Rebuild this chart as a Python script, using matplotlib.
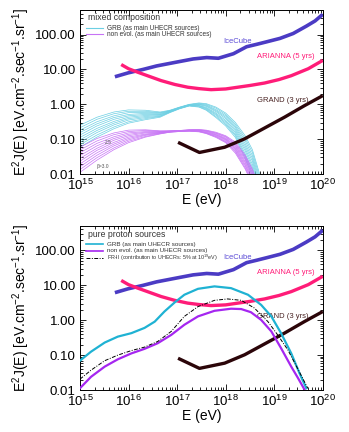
import numpy as np
import matplotlib
matplotlib.use("Agg")
import matplotlib.pyplot as plt
from matplotlib.ticker import LogLocator, FuncFormatter, NullFormatter

plt.rcParams['font.family'] = ['Liberation Sans', 'DejaVu Sans']
plt.rcParams['mathtext.fontset'] = 'custom'
plt.rcParams['mathtext.rm'] = 'Liberation Sans'
plt.rcParams['mathtext.it'] = 'Liberation Sans:italic'

# ---------------- data (log10 values) ----------------
# detector sensitivities
icecube_logE = [15.72, 15.99, 16.30, 16.58, 16.99, 17.33, 17.61, 17.85, 18.16, 18.43, 18.64, 18.84, 19.12, 19.39, 19.66, 19.84, 20.0]
icecube_logF = [0.79, 0.90, 1.00, 1.10, 1.21, 1.30, 1.34, 1.32, 1.45, 1.65, 1.72, 1.79, 1.89, 2.03, 2.24, 2.39, 2.58]
arianna_logE = [15.85, 16.0, 16.19, 16.45, 16.67, 16.95, 17.22, 17.45, 17.70, 18.0, 18.25, 18.5, 18.8, 19.1, 19.35, 19.7, 20.0]
arianna_logF = [1.14, 1.02, 0.92, 0.79, 0.68, 0.57, 0.49, 0.45, 0.42, 0.44, 0.49, 0.54, 0.61, 0.71, 0.82, 1.02, 1.26]
grand_logE = [17.02, 17.46, 17.98, 18.39, 18.80, 19.21, 19.62, 20.0]
grand_logF = [-1.09, -1.38, -1.23, -0.99, -0.68, -0.37, -0.04, 0.25]

# mixed composition families (10 spectral indices each)
mixed_logE = [15.0, 15.35, 15.7, 16.0, 16.35, 16.65, 16.85, 17.05, 17.25, 17.45, 17.6, 17.8, 18.0, 18.2, 18.4, 18.55, 18.7]
grb_mixed_logF = [
    [-0.60, -0.37, -0.22, -0.16, -0.17, -0.22, -0.17, -0.08, 0.00, 0.04, 0.02, -0.08, -0.25, -0.52, -0.90, -1.30, -2.00],
    [-0.67, -0.43, -0.27, -0.20, -0.20, -0.24, -0.18, -0.09, -0.01, 0.03, 0.00, -0.11, -0.29, -0.57, -0.97, -1.38, -2.09],
    [-0.74, -0.50, -0.33, -0.24, -0.23, -0.25, -0.19, -0.09, -0.01, 0.01, -0.02, -0.15, -0.33, -0.62, -1.04, -1.47, -2.18],
    [-0.81, -0.56, -0.38, -0.29, -0.26, -0.27, -0.19, -0.10, -0.02, 0.00, -0.04, -0.18, -0.37, -0.66, -1.12, -1.55, -2.27],
    [-0.88, -0.62, -0.43, -0.33, -0.29, -0.29, -0.20, -0.10, -0.02, -0.01, -0.06, -0.21, -0.41, -0.71, -1.19, -1.63, -2.36],
    [-0.95, -0.69, -0.49, -0.37, -0.32, -0.30, -0.21, -0.11, -0.03, -0.03, -0.09, -0.25, -0.46, -0.76, -1.26, -1.72, -2.44],
    [-1.02, -0.75, -0.54, -0.41, -0.35, -0.32, -0.22, -0.11, -0.03, -0.04, -0.11, -0.28, -0.50, -0.81, -1.33, -1.80, -2.53],
    [-1.09, -0.81, -0.59, -0.45, -0.38, -0.34, -0.22, -0.12, -0.04, -0.05, -0.13, -0.31, -0.54, -0.86, -1.41, -1.88, -2.62],
    [-1.16, -0.88, -0.65, -0.50, -0.41, -0.35, -0.23, -0.12, -0.04, -0.07, -0.15, -0.35, -0.58, -0.90, -1.48, -1.97, -2.71],
    [-1.23, -0.94, -0.70, -0.54, -0.44, -0.37, -0.24, -0.13, -0.05, -0.08, -0.17, -0.38, -0.62, -0.95, -1.55, -2.05, -2.80],
]
nonevol_mixed_logF = [
    [-1.23, -0.98, -0.82, -0.74, -0.73, -0.76, -0.76, -0.75, -0.73, -0.72, -0.74, -0.80, -0.90, -1.08, -1.45, -1.85, -2.40],
    [-1.31, -1.05, -0.87, -0.78, -0.75, -0.77, -0.76, -0.75, -0.73, -0.73, -0.75, -0.82, -0.92, -1.12, -1.49, -1.90, -2.47],
    [-1.39, -1.12, -0.93, -0.82, -0.78, -0.78, -0.77, -0.76, -0.74, -0.74, -0.76, -0.83, -0.94, -1.15, -1.54, -1.95, -2.53],
    [-1.47, -1.19, -0.98, -0.86, -0.80, -0.79, -0.77, -0.76, -0.74, -0.74, -0.77, -0.85, -0.97, -1.19, -1.58, -2.00, -2.60],
    [-1.55, -1.26, -1.03, -0.90, -0.82, -0.80, -0.78, -0.76, -0.75, -0.75, -0.78, -0.87, -0.99, -1.22, -1.63, -2.05, -2.67],
    [-1.63, -1.32, -1.09, -0.94, -0.85, -0.81, -0.78, -0.77, -0.75, -0.76, -0.80, -0.88, -1.01, -1.26, -1.67, -2.10, -2.73],
    [-1.71, -1.39, -1.14, -0.98, -0.87, -0.82, -0.79, -0.77, -0.76, -0.77, -0.81, -0.90, -1.03, -1.29, -1.72, -2.15, -2.80],
    [-1.79, -1.46, -1.19, -1.02, -0.89, -0.83, -0.79, -0.77, -0.76, -0.77, -0.82, -0.92, -1.06, -1.33, -1.76, -2.20, -2.87],
    [-1.87, -1.53, -1.25, -1.06, -0.92, -0.84, -0.80, -0.78, -0.77, -0.78, -0.83, -0.93, -1.08, -1.36, -1.81, -2.25, -2.93],
    [-1.95, -1.60, -1.30, -1.10, -0.94, -0.85, -0.80, -0.78, -0.77, -0.79, -0.84, -0.95, -1.10, -1.40, -1.85, -2.30, -3.00],
]

# pure proton sources
grb_p_logE = [15.0, 15.23, 15.51, 15.78, 16.06, 16.33, 16.54, 16.74, 16.95, 17.15, 17.43, 17.77, 18.11, 18.46, 18.73, 18.94, 19.14, 19.35, 19.52, 19.66]
grb_p_logF = [-1.16, -0.90, -0.64, -0.47, -0.37, -0.22, -0.04, 0.25, 0.51, 0.73, 0.90, 0.97, 0.92, 0.73, 0.44, 0.11, -0.37, -0.95, -1.52, -1.95]
nonevol_p_logE = [15.0, 15.23, 15.51, 15.78, 16.06, 16.33, 16.60, 16.88, 17.15, 17.43, 17.77, 18.11, 18.32, 18.52, 18.73, 18.94, 19.14, 19.35, 19.49, 19.62]
nonevol_p_logF = [-1.95, -1.62, -1.33, -1.12, -0.95, -0.82, -0.66, -0.42, -0.13, 0.11, 0.27, 0.33, 0.32, 0.23, 0.01, -0.32, -0.80, -1.33, -1.66, -1.98]
frii_logE = [15.0, 15.23, 15.51, 15.78, 16.06, 16.33, 16.60, 16.88, 17.15, 17.43, 17.77, 18.04, 18.32, 18.59, 18.87, 19.07, 19.28, 19.48, 19.69]
frii_logF = [-1.69, -1.43, -1.16, -1.00, -0.87, -0.77, -0.61, -0.32, 0.11, 0.39, 0.57, 0.61, 0.57, 0.35, -0.04, -0.42, -0.85, -1.38, -1.95]

ytick_vals = [0.01, 0.1, 1.0, 10.0, 100.0]
xtick_vals = [1e15, 1e16, 1e17, 1e18, 1e19, 1e20]

C_ICE = '#4b3bc4'
C_ARI = '#ff1c78'
C_GRAND = '#2b0509'
C_CYAN_THIN = '#6ccfe3'
C_PURP_THIN = '#c773f5'
C_CYAN = '#1fb2d3'
C_PURP = '#a526f0'
DASHDOT = (0, (4, 1.5, 1, 1.5))


def p(a):
    return np.power(10.0, np.asarray(a, dtype=float))


fig = plt.figure(figsize=(3.49, 4.32), dpi=100)
ax1 = fig.add_axes([0.229, 0.597, 0.696, 0.3796])
ax2 = fig.add_axes([0.229, 0.0972, 0.696, 0.3796])


def style(ax):
    ax.set_xscale('log')
    ax.set_yscale('log')
    ax.set_xlim(1e15, 1e20)
    ax.set_ylim(0.01, 10 ** 2.7)
    ax.set_xticks(xtick_vals)
    ax.xaxis.set_major_formatter(FuncFormatter(lambda v, pos: r'$10^{%d}$' % int(round(np.log10(v)))))
    ax.set_yticks(ytick_vals)
    ax.yaxis.set_major_formatter(FuncFormatter(lambda v, pos: '%.2f' % v))
    ax.xaxis.set_minor_locator(LogLocator(base=10, subs=np.arange(2, 10), numticks=20))
    ax.yaxis.set_minor_locator(LogLocator(base=10, subs=np.arange(2, 10), numticks=20))
    ax.xaxis.set_minor_formatter(NullFormatter())
    ax.yaxis.set_minor_formatter(NullFormatter())
    ax.tick_params(which='both', direction='in', top=True, right=True, width=0.6)
    ax.tick_params(which='major', length=4.5, labelsize=9.5, pad=3)
    ax.tick_params(which='minor', length=2.2)
    for s in ax.spines.values():
        s.set_linewidth(0.7)
    ax.set_xlabel('E (eV)', fontsize=10, labelpad=0)
    ax.set_ylabel(r'E$^2$J(E) [eV.cm$^{-2}$.sec$^{-1}$.sr$^{-1}$]', fontsize=10)
    ax.yaxis.set_label_coords(-0.198, 0.5)
    ax.plot(p(icecube_logE), p(icecube_logF), color=C_ICE, lw=2.6, solid_capstyle='butt', zorder=3)
    ax.plot(p(arianna_logE), p(arianna_logF), color=C_ARI, lw=2.4, solid_capstyle='butt', zorder=3)
    ax.plot(p(grand_logE), p(grand_logF), color=C_GRAND, lw=2.4, solid_capstyle='butt', zorder=3)
    ax.text(10 ** 18.25, 10 ** 1.81, 'IceCube', color='#5b4bd6', fontsize=5.5, ha='center', va='center')
    ax.text(10 ** 19.24, 10 ** 1.36, 'ARIANNA (5 yrs)', color=C_ARI, fontsize=5.5, ha='center', va='center')
    ax.text(10 ** 19.18, 10 ** 0.11, 'GRAND (3 yrs)', color='#4a2424', fontsize=5.5, ha='center', va='center')


style(ax1)
style(ax2)

# ---- top panel: mixed composition ----
for line in grb_mixed_logF:
    ax1.plot(p(mixed_logE), p(line), color=C_CYAN_THIN, lw=0.5, zorder=2)
for line in nonevol_mixed_logF:
    ax1.plot(p(mixed_logE), p(line), color=C_PURP_THIN, lw=0.5, zorder=2)
ax1.text(10 ** 15.58, 10 ** -1.10, '2.5', fontsize=3.5, color='#555555', ha='center', va='center')
ax1.text(10 ** 15.47, 10 ** -1.78, 'β=3.0', fontsize=3.5, color='#555555', ha='center', va='center')

ax1.text(0.033, 0.955, 'mixed composition', transform=ax1.transAxes, fontsize=6.2, color='#333333', ha='left', va='center')
ax1.plot([0.027, 0.096], [0.888, 0.888], transform=ax1.transAxes, color=C_CYAN_THIN, lw=0.8)
ax1.plot([0.027, 0.096], [0.852, 0.852], transform=ax1.transAxes, color=C_PURP_THIN, lw=0.8)
ax1.text(0.11, 0.888, 'GRB (as main UHECR sources)', transform=ax1.transAxes, fontsize=4.7, color='#333333', ha='left', va='center')
ax1.text(0.11, 0.852, 'non evol. (as main UHECR sources)', transform=ax1.transAxes, fontsize=4.7, color='#333333', ha='left', va='center')

# ---- bottom panel: pure proton ----
ax2.plot(p(grb_p_logE), p(grb_p_logF), color=C_CYAN, lw=1.6, zorder=4)
ax2.plot(p(nonevol_p_logE), p(nonevol_p_logF), color=C_PURP, lw=1.6, zorder=4)
ax2.plot(p(frii_logE), p(frii_logF), color='black', lw=0.7, ls=DASHDOT, zorder=4)

ax2.text(0.033, 0.951, 'pure proton sources', transform=ax2.transAxes, fontsize=6.2, color='#333333', ha='left', va='center')
ax2.plot([0.027, 0.096], [0.890, 0.890], transform=ax2.transAxes, color=C_CYAN, lw=1.2)
ax2.plot([0.027, 0.096], [0.848, 0.848], transform=ax2.transAxes, color=C_PURP, lw=1.2)
ax2.plot([0.027, 0.096], [0.803, 0.803], transform=ax2.transAxes, color='black', lw=0.7, ls=DASHDOT)
ax2.text(0.11, 0.890, 'GRB (as main UHECR sources)', transform=ax2.transAxes, fontsize=4.5, color='#333333', ha='left', va='center')
ax2.text(0.11, 0.848, 'non evol. (as main UHECR sources)', transform=ax2.transAxes, fontsize=4.5, color='#333333', ha='left', va='center')
ax2.text(0.11, 0.803, r'FR-II (contribution to UHECRs: 5% at 10$^{19}$eV)', transform=ax2.transAxes, fontsize=3.9, color='#333333', ha='left', va='center')

fig.savefig('out.png', dpi=100)
